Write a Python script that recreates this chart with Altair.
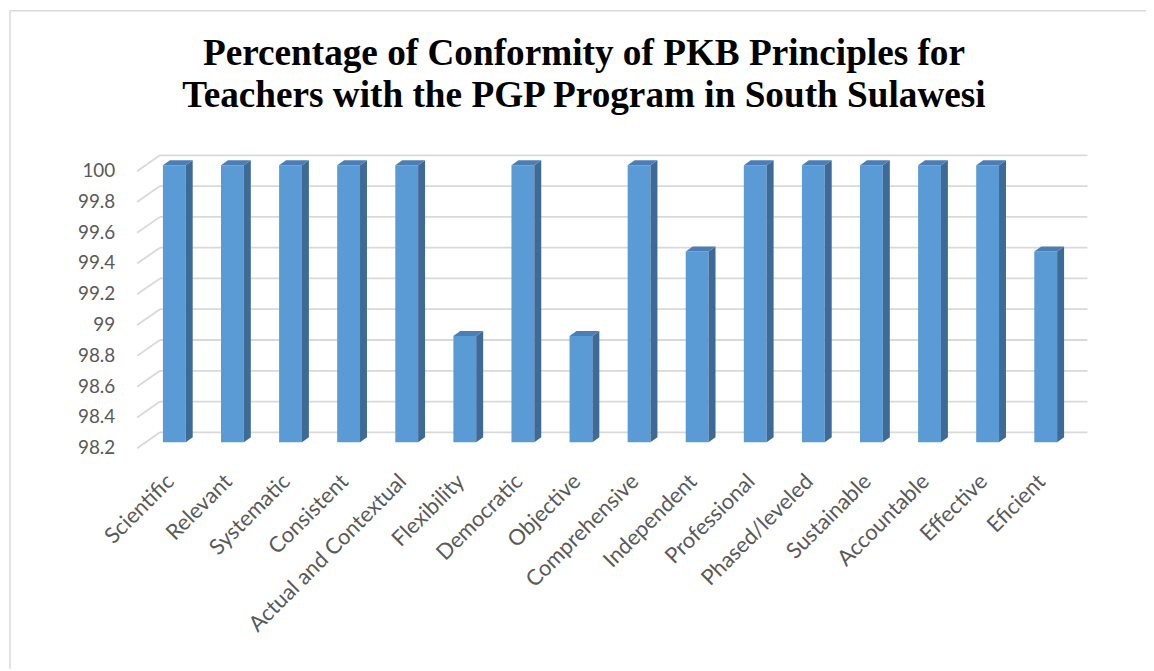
import altair as alt
import pandas as pd

categories = ["Scientific", "Relevant", "Systematic", "Consistent", "Actual and Contextual",
              "Flexibility", "Democratic", "Objective", "Comprehensive", "Independent",
              "Professional", "Phased/leveled", "Sustainable", "Accountable", "Effective", "Eficient"]
values = [100, 100, 100, 100, 100, 98.89, 100, 98.89, 100, 99.44, 100, 100, 100, 100, 100, 99.44]
ticks = [98.2, 98.4, 98.6, 98.8, 99.0, 99.2, 99.4, 99.6, 99.8, 100.0]
tick_labels = ["98.2", "98.4", "98.6", "98.8", "99", "99.2", "99.4", "99.6", "99.8", "100"]
title_lines = ["Percentage of Conformity of PKB Principles for",
               "Teachers with the PGP Program in South Sulawesi"]

BASE = 98.2
W, H = 957, 295
STEP = 58.5          # px per category
PPU = 155.0          # px per percent
HALF = 11.5          # half width of bar front (px)
DX, DY = 7.0, 5.0    # 3-D depth (px)

xs = alt.Scale(domain=[0, 15], range=[37.5, 37.5 + 15 * STEP])
ys = alt.Scale(domain=[BASE, 100], range=[289, 10], zero=False, nice=False)

bars = pd.DataFrame({"cat": categories, "i": list(range(len(categories))), "v": values})
bars["base"] = BASE

side_rows, top_rows = [], []
du_x, du_y = 1.0 / STEP, 1.0 / PPU
for i, (c, v) in enumerate(zip(categories, values)):
    side_rows.append({"cat": c, "x": i + HALF * du_x, "t": v, "b": BASE})
    side_rows.append({"cat": c, "x": i + (HALF + DX) * du_x, "t": v + DY * du_y, "b": BASE + DY * du_y})
    top_rows.append({"cat": c, "x": i - HALF * du_x, "t": v, "b": v})
    top_rows.append({"cat": c, "x": i + (DX - HALF) * du_x, "t": v + DY * du_y, "b": v})
    top_rows.append({"cat": c, "x": i + HALF * du_x, "t": v + DY * du_y, "b": v})
    top_rows.append({"cat": c, "x": i + (HALF + DX) * du_x, "t": v + DY * du_y, "b": v + DY * du_y})
side = pd.DataFrame(side_rows)
top = pd.DataFrame(top_rows)
grid = pd.DataFrame({"t": ticks, "lab": tick_labels})

GRID = "#d9d9d9"

hgrid = alt.Chart(grid).mark_rule(color=GRID, strokeWidth=1.8, yOffset=-10).encode(
    x=alt.value(23), x2=alt.value(W),
    y=alt.Y("t:Q", scale=ys, axis=None))
dgrid = alt.Chart(grid).mark_rule(color=GRID, strokeWidth=1.8, yOffset=6, y2Offset=-10).encode(
    x=alt.value(0), x2=alt.value(23),
    y=alt.Y("t:Q", scale=ys, axis=None), y2="t:Q")
ylab = alt.Chart(grid).mark_text(align="right", baseline="middle", font="Lato", fontSize=19,
                                 color="#595959", yOffset=6).encode(
    x=alt.value(-22), y=alt.Y("t:Q", scale=ys, axis=None), text="lab:N")

front = alt.Chart(bars).mark_rect(color="#5b9bd5", xOffset=-HALF, x2Offset=HALF).encode(
    x=alt.X("i:Q", scale=xs, axis=None), x2="i:Q",
    y=alt.Y("v:Q", scale=ys, axis=None), y2="base:Q")
sidef = alt.Chart(side).mark_area(color="#3d6a96", orient="vertical", opacity=1).encode(
    x=alt.X("x:Q", scale=xs, axis=None),
    y=alt.Y("t:Q", scale=ys, axis=None), y2="b:Q", detail="cat:N")
topf = alt.Chart(top).mark_area(color="#4a7eb5", orient="vertical", opacity=1).encode(
    x=alt.X("x:Q", scale=xs, axis=None),
    y=alt.Y("t:Q", scale=ys, axis=None), y2="b:Q", detail="cat:N")

xlab = alt.Chart(bars).mark_text(angle=315, align="right", baseline="middle", font="Lato",
                                 fontSize=22, color="#595959", xOffset=-4).encode(
    x=alt.X("i:Q", scale=xs, axis=None), y=alt.value(325), text="cat:N")

def title_line(txt, ypix):
    return alt.Chart(pd.DataFrame({"txt": [txt]})).mark_text(
        font="Times New Roman, Liberation Serif, serif", fontWeight="bold", fontSize=37.5,
        color="#000000", baseline="alphabetic", align="center").encode(
        x=alt.value(450), y=alt.value(ypix), text="txt:N")

ttl1 = title_line(title_lines[0], -91)
ttl2 = title_line(title_lines[1], -49)

frame_l = alt.Chart(grid.head(1)).mark_rule(color=GRID, strokeWidth=1.5).encode(
    x=alt.value(-128), y=alt.value(-146), y2=alt.value(H + 222))
frame_t = alt.Chart(grid.head(1)).mark_rule(color=GRID, strokeWidth=1.5).encode(
    x=alt.value(-128), x2=alt.value(W + 59), y=alt.value(-145.5))

chart = alt.layer(frame_l, frame_t, hgrid, dgrid, ylab, front, sidef, topf, xlab, ttl1, ttl2).properties(
    width=W, height=H,
    autosize=alt.AutoSizeParams(type="none"),
    padding={"left": 130, "top": 146, "right": 59, "bottom": 222},
    view=alt.ViewBackground(stroke="transparent", strokeWidth=0, fill="white"),
).configure_view(stroke="transparent", strokeWidth=0).configure(background="white")

chart.save("out.html", embed_options={"renderer": "svg", "actions": False})
